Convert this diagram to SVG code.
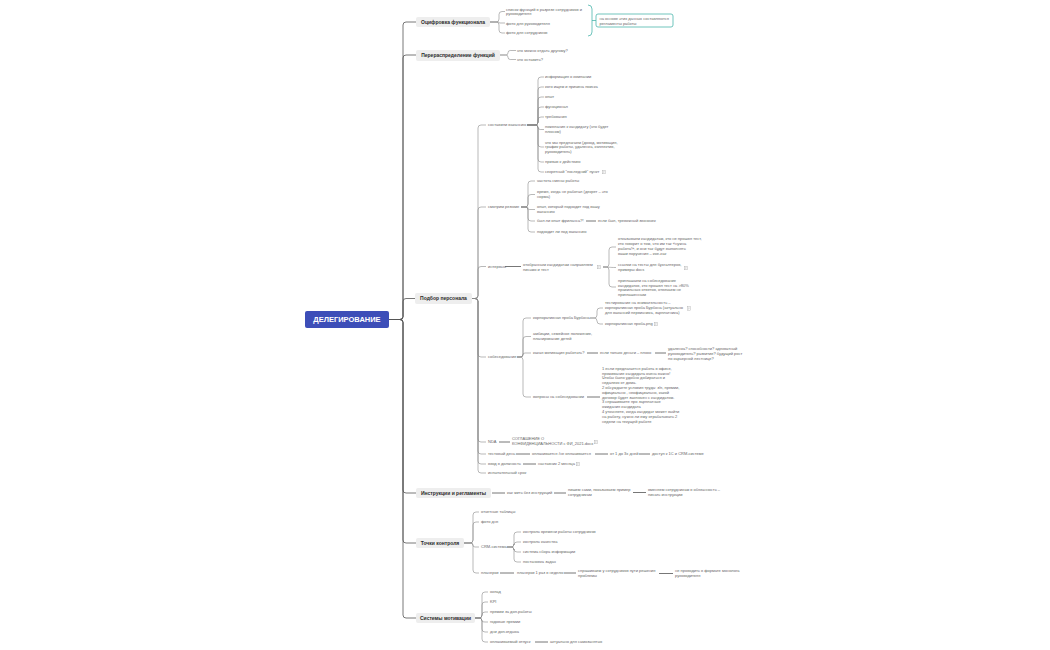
<svg xmlns="http://www.w3.org/2000/svg" xmlns:xlink="http://www.w3.org/1999/xlink" width="1050" height="650" viewBox="0 0 1050 650">
<style>
.t{font-family:"Liberation Sans",Arial,sans-serif;font-size:4px;fill:#666}
.m{font-family:"Liberation Sans",Arial,sans-serif;font-size:5px;font-weight:bold;fill:#2a2a2a;text-anchor:middle}
.r{font-family:"Liberation Sans",Arial,sans-serif;font-size:7.5px;font-weight:bold;fill:#fff;text-anchor:middle}
.mb{fill:#eeeeee}
.c{fill:none;stroke:#8a8a8a;stroke-width:0.6}
.mc{fill:none;stroke:#555;stroke-width:0.8}
.s{fill:none;stroke:#777;stroke-width:1}
.tl{fill:none;stroke:#4db6ac;stroke-width:0.8}
</style>
<defs>
<symbol id="note" viewBox="0 0 4 4" overflow="visible">
<rect x="0.3" y="0.2" width="3" height="3.6" fill="none" stroke="#aaa" stroke-width="0.4"/>
<path d="M0.9 1.2H2.7M0.9 2H2.7M0.9 2.8H2.2" stroke="#aaa" stroke-width="0.3"/>
</symbol>
</defs>
<rect width="1050" height="650" fill="#fff"/>

<g id="connectors">
<path class="mc" d="M389 319.5 H400 Q403 319.5 403 316.5 V25 Q403 22 406 22 H416"/>
<path class="mc" d="M389 319.5 H400 Q403 319.5 403 316.5 V58 Q403 55 406 55 H416"/>
<path class="mc" d="M389 319.5 H400 Q403 319.5 403 316.5 V301.5 Q403 298.5 406 298.5 H415"/>
<path class="mc" d="M389 319.5 H400 Q403 319.5 403 322.5 V490 Q403 493 406 493 H416"/>
<path class="mc" d="M389 319.5 H400 Q403 319.5 403 322.5 V540 Q403 543 406 543 H416"/>
<path class="mc" d="M389 319.5 H400 Q403 319.5 403 322.5 V615 Q403 618 406 618 H416"/>
<path class="c" d="M490 22 H496 Q499 22 499 19 V14.5 Q499 11.5 502 11.5 H505"/>
<path class="c" d="M490 22 H498.5 Q499 22 499 22.5 Q499 23 499.5 23 H505"/>
<path class="c" d="M490 22 H496 Q499 22 499 25 V30 Q499 33 502 33 H505"/>
<path class="tl" d="M588 5 Q592 5 592 9 V32 Q592 36 588 36 M592 20.5 H596"/>
<path class="c" d="M500 55 H505.75 Q508 55 508 52.75 Q508 50.5 510.25 50.5 H516"/>
<path class="c" d="M500 55 H505.75 Q508 55 508 57.25 Q508 59.5 510.25 59.5 H516"/>
<path class="c" d="M472 298.5 H475 Q478 298.5 478 295.5 V128 Q478 125 481 125 H486"/>
<path class="c" d="M472 298.5 H475 Q478 298.5 478 295.5 V210 Q478 207 481 207 H486"/>
<path class="c" d="M472 298.5 H475 Q478 298.5 478 295.5 V269.5 Q478 266.5 481 266.5 H486"/>
<path class="c" d="M472 298.5 H475 Q478 298.5 478 301.5 V354 Q478 357 481 357 H486"/>
<path class="c" d="M472 298.5 H475 Q478 298.5 478 301.5 V439 Q478 442 481 442 H486"/>
<path class="c" d="M472 298.5 H475 Q478 298.5 478 301.5 V451 Q478 454 481 454 H486"/>
<path class="c" d="M472 298.5 H475 Q478 298.5 478 301.5 V461 Q478 464 481 464 H486"/>
<path class="c" d="M472 298.5 H475 Q478 298.5 478 301.5 V470 Q478 473 481 473 H486"/>
<path class="c" d="M527 125 H535 Q538 125 538 122 V80 Q538 77 541 77 H544"/>
<path class="c" d="M527 125 H535 Q538 125 538 122 V90 Q538 87 541 87 H544"/>
<path class="c" d="M527 125 H535 Q538 125 538 122 V100 Q538 97 541 97 H544"/>
<path class="c" d="M527 125 H535 Q538 125 538 122 V110 Q538 107 541 107 H544"/>
<path class="c" d="M527 125 H535 Q538 125 538 122 V120 Q538 117 541 117 H544"/>
<path class="c" d="M527 125 H535.75 Q538 125 538 127.25 Q538 129.5 540.25 129.5 H544"/>
<path class="c" d="M527 125 H535 Q538 125 538 128 V144 Q538 147 541 147 H544"/>
<path class="c" d="M527 125 H535 Q538 125 538 128 V159 Q538 162 541 162 H544"/>
<path class="c" d="M527 125 H535 Q538 125 538 128 V169 Q538 172 541 172 H544"/>
<path class="c" d="M521 207 H525 Q528 207 528 204 V184 Q528 181 531 181 H535"/>
<path class="c" d="M521 207 H525 Q528 207 528 204 V197.5 Q528 194.5 531 194.5 H535"/>
<path class="c" d="M521 207 H526.75 Q528 207 528 208.25 Q528 209.5 529.25 209.5 H535"/>
<path class="c" d="M521 207 H525 Q528 207 528 210 V218 Q528 221 531 221 H535"/>
<path class="c" d="M521 207 H525 Q528 207 528 210 V229 Q528 232 531 232 H535"/>
<path class="s" d="M586 221 H596"/>
<path class="s" d="M505 266.5 H521"/>
<path class="c" d="M603 267 H606 Q609 267 609 264 V250 Q609 247 612 247 H616"/>
<path class="c" d="M603 267 C609 267 609 267.5 616 267.5"/>
<path class="c" d="M603 267 H606 Q609 267 609 270 V284 Q609 287 612 287 H616"/>
<path class="c" d="M517 357 H520 Q523 357 523 354 V321 Q523 318 526 318 H531"/>
<path class="c" d="M517 357 H520 Q523 357 523 354 V339.5 Q523 336.5 526 336.5 H531"/>
<path class="c" d="M517 357 H521 Q523 357 523 355 Q523 353 525 353 H531"/>
<path class="c" d="M517 357 H520 Q523 357 523 360 V394 Q523 397 526 397 H531"/>
<path class="c" d="M590 318 H594 Q597 318 597 315 V311 Q597 308 600 308 H603"/>
<path class="c" d="M590 318 H594 Q597 318 597 321 Q597 324 600 324 H603"/>
<path class="s" d="M587 353 H598"/>
<path class="s" d="M655 353 H666"/>
<path class="s" d="M587 397 H600"/>
<path class="s" d="M499 442 H510"/>
<path class="s" d="M516 454 H530"/>
<path class="s" d="M595 454 H608"/>
<path class="s" d="M639 454 H650"/>
<path class="s" d="M523 464 H536"/>
<path class="s" d="M492 493 H505"/>
<path class="s" d="M554 493 H566"/>
<path class="s" d="M633 492.5 H646"/>
<path class="c" d="M464 543 H470 Q473 543 473 540 V515 Q473 512 476 512 H479"/>
<path class="c" d="M464 543 H470 Q473 543 473 540 V525 Q473 522 476 522 H479"/>
<path class="c" d="M464 543 H471 Q473 543 473 545 Q473 547 475 547 H479"/>
<path class="c" d="M464 543 H470 Q473 543 473 546 V570 Q473 573 476 573 H479"/>
<path class="c" d="M507 547 H511 Q514 547 514 544 V535 Q514 532 517 532 H521"/>
<path class="c" d="M507 547 H511 Q514 547 514 544 V545 Q514 542 517 542 H521"/>
<path class="c" d="M507 547 H511 Q514 547 514 550 V549 Q514 552 517 552 H521"/>
<path class="c" d="M507 547 H511 Q514 547 514 550 V559 Q514 562 517 562 H521"/>
<path class="s" d="M500 573 H514"/>
<path class="s" d="M564 573 H576"/>
<path class="s" d="M659 573.5 H673"/>
<path class="c" d="M475 618 H479 Q482 618 482 615 V595 Q482 592 485 592 H488"/>
<path class="c" d="M475 618 H479 Q482 618 482 615 V605 Q482 602 485 602 H488"/>
<path class="c" d="M475 618 H479 Q482 618 482 615 Q482 612 485 612 H488"/>
<path class="c" d="M475 618 H479 Q482 618 482 621 Q482 622 485 622 H488"/>
<path class="c" d="M475 618 H479 Q482 618 482 621 V629 Q482 632 485 632 H488"/>
<path class="c" d="M475 618 H479 Q482 618 482 621 V639 Q482 642 485 642 H488"/>
<path class="s" d="M535 642 H548"/>
</g>

<g id="root">
<rect x="305" y="311" width="84" height="17" rx="2" fill="#3d4eb8"/>
<text class="r" x="347" y="322.3">ДЕЛЕГИРОВАНИЕ</text>
</g>

<g id="n-ocifrovka">
<rect class="mb" x="416" y="17" width="74" height="10" rx="2"/>
<text class="m" x="453" y="23.8">Оцифровка функционала</text>
</g>
<g id="n-ocifrovka-sub">
<text class="t"><tspan x="506" y="10.7">список функций в разрезе сотрудников и</tspan><tspan x="506" y="15.4">руководителя</tspan></text>
<text class="t" x="506" y="24.7">фото для руководителя</text>
<text class="t" x="506" y="34.4">фото для сотрудников</text>
</g>
<g id="n-summary">
<rect x="596" y="14" width="77" height="13" rx="2" fill="#fff" stroke="#4db6ac" stroke-width="0.8"/>
<text class="t"><tspan x="599.5" y="20.2">на основе этих данных составляются</tspan><tspan x="599.5" y="24.8">регламенты работы</tspan></text>
</g>

<g id="n-pereraspr">
<rect class="mb" x="416" y="50" width="84" height="11" rx="2"/>
<text class="m" x="458" y="56.8">Перераспределение функций</text>
<text class="t" x="517" y="51.9">что можно отдать другому?</text>
<text class="t" x="517" y="60.9">что оставить?</text>
</g>

<g id="n-podbor">
<rect class="mb" x="415" y="293" width="57" height="11" rx="2"/>
<text class="m" x="443.5" y="300.3">Подбор персонала</text>
</g>

<g id="n-vakansiya">
<text class="t" x="488" y="126.4">составили вакансию</text>
<text class="t" x="545" y="78.4">информация о компании</text>
<text class="t" x="545" y="88.4">кого ищем и причина поиска</text>
<text class="t" x="545" y="98.4">опыт</text>
<text class="t" x="545" y="108.4">функционал</text>
<text class="t" x="545" y="118.4">требования</text>
<text class="t"><tspan x="545" y="128.4">пожелания к кандидату (что будет</tspan><tspan x="545" y="133.3">плюсом)</tspan></text>
<text class="t"><tspan x="545" y="143.7">что мы предлагаем (доход, мотивация,</tspan><tspan x="545" y="148.4">график работы, удаленка, коллектив,</tspan><tspan x="545" y="153.1">руководитель)</tspan></text>
<text class="t" x="545" y="163.4">призыв к действию</text>
<text class="t" x="545" y="173.4">секретный "последний" пункт</text>
<use xlink:href="#note" x="602" y="170" width="4" height="4"/>
</g>

<g id="n-rezume">
<text class="t" x="488" y="208.4">смотрим резюме</text>
<text class="t" x="537" y="182.4">частота смены работы</text>
<text class="t"><tspan x="537" y="193.4">время, когда не работал (декрет – это</tspan><tspan x="537" y="198.3">норма)</tspan></text>
<text class="t"><tspan x="537" y="208.4">опыт, который подходит под вашу</tspan><tspan x="537" y="213.3">вакансию</tspan></text>
<text class="t" x="537" y="222.4">был ли опыт фриланса?!</text>
<text class="t" x="598" y="222.4">если был, тревожный звоночек</text>
<text class="t" x="537" y="233.4">подходит ли под вакансию</text>
</g>

<g id="n-intervyu">
<text class="t" x="488" y="267.9">интервью</text>
<text class="t"><tspan x="523" y="266.4">отобранным кандидатам направляем</tspan><tspan x="523" y="271.3">письмо и тест</tspan></text>
<use xlink:href="#note" x="597" y="265" width="4" height="4"/>
<text class="t"><tspan x="618" y="240.4">отказываем кандидатам, кто не прошел тест,</tspan><tspan x="618" y="245.2">кто говорит о том, что им так «нужна</tspan><tspan x="618" y="250">работа!», и они так будут выполнять</tspan><tspan x="618" y="254.8">ваши поручения – кое-как</tspan></text>
<text class="t"><tspan x="618" y="266.4">ссылки на тесты для бухгалтеров,</tspan><tspan x="618" y="271.2">примеры docs</tspan></text>
<use xlink:href="#note" x="684" y="266" width="4" height="4"/>
<text class="t"><tspan x="618" y="281.7">приглашаем на собеседование</tspan><tspan x="618" y="286.5">кандидатов, кто прошел тест на &gt;80%</tspan><tspan x="618" y="291.3">правильных ответов, отвечаем не</tspan><tspan x="618" y="296.1">приглашенным</tspan></text>
</g>

<g id="n-sobesedovanie">
<text class="t" x="488" y="358.4">собеседование</text>
<text class="t" x="533" y="319.4">корпоративная проба Бурбона</text>
<text class="t"><tspan x="605" y="304">тестирование на внимательность –</tspan><tspan x="605" y="309.2">корпоративная проба Бурбона (актуально</tspan><tspan x="605" y="314.4">для вакансий первичника, зарплатника)</tspan></text>
<use xlink:href="#note" x="687" y="306.5" width="4" height="4"/>
<text class="t" x="605" y="325.4">корпоративная проба.png</text>
<use xlink:href="#note" x="654" y="322" width="4" height="4"/>
<text class="t"><tspan x="533" y="335.4">амбиции, семейное положение,</tspan><tspan x="533" y="340.3">планирование детей</tspan></text>
<text class="t" x="533" y="354.4">какая мотивация работать?</text>
<text class="t" x="600" y="354.4">если только деньги – плохо</text>
<text class="t"><tspan x="668" y="350.4">удаленка? способности? адекватный</tspan><tspan x="668" y="355.3">руководитель? развитие? будущий рост</tspan><tspan x="668" y="360.2">по карьерной лестнице?</tspan></text>
<text class="t" x="533" y="398.4">вопросы на собеседовании</text>
<text class="t"><tspan x="602" y="369.7"> 1 если предлагается работа в офисе,</tspan><tspan x="602" y="374.5">проживание кандидата очень важно!</tspan><tspan x="602" y="379.3">Чтобы было удобно добираться и</tspan><tspan x="602" y="384.1">недалеко от дома.</tspan><tspan x="602" y="388.9">2 обсуждаете условия труда: з/п, премии,</tspan><tspan x="602" y="393.7">официально , неофициально, какой</tspan><tspan x="602" y="398.5">договор будет заключен с кандидатом.</tspan><tspan x="602" y="403.3">3 спрашиваете про зарплатные</tspan><tspan x="602" y="408.1">ожидания кандидата</tspan><tspan x="602" y="412.9">4 уточняете, когда кандидат может выйти</tspan><tspan x="602" y="417.7">на работу, нужно ли ему отрабатывать 2</tspan><tspan x="602" y="422.5">недели на текущей работе</tspan></text>
</g>

<g id="n-nda">
<text class="t" x="488" y="443.4">NDA</text>
<text class="t"><tspan x="512" y="440.4">СОГЛАШЕНИЕ О</tspan><tspan x="512" y="445">КОНФИДЕНЦИАЛЬНОСТИ с ФИ_2021.docx</tspan></text>
<use xlink:href="#note" x="594" y="440" width="4" height="4"/>
</g>
<g id="n-testday">
<text class="t" x="488" y="455.4">тестовый день</text>
<text class="t" x="532" y="455.4">оплачивается /не оплачивается</text>
<text class="t" x="610" y="455.4">от 1 до 3х дней</text>
<text class="t" x="652" y="455.4">доступ к 1С и CRM-системе</text>
</g>
<g id="n-vvod">
<text class="t" x="488" y="465.4">ввод в должность</text>
<text class="t" x="538" y="465.4">наставник 2 месяца</text>
<use xlink:href="#note" x="576" y="462" width="4" height="4"/>
</g>
<g id="n-isp">
<text class="t" x="488" y="474.4">испытательный срок</text>
</g>

<g id="n-instrukcii">
<rect class="mb" x="416" y="488" width="75" height="10" rx="2"/>
<text class="m" x="453.5" y="494.8">Инструкции и регламенты</text>
<text class="t" x="507" y="494.4">как жить без инструкций</text>
<text class="t"><tspan x="568" y="491.4">пишем сами, показываем пример</tspan><tspan x="568" y="496.3">сотрудникам</tspan></text>
<text class="t"><tspan x="648" y="491.4">вменяем сотрудникам в обязанность –</tspan><tspan x="648" y="496.3">писать инструкции</tspan></text>
</g>

<g id="n-tochki">
<rect class="mb" x="416" y="538" width="48" height="10" rx="2"/>
<text class="m" x="440" y="544.8">Точки контроля</text>
<text class="t" x="481" y="513.4">отчетные таблицы</text>
<text class="t" x="481" y="523.4">фото дня</text>
<text class="t" x="481" y="548.4">CRM-система</text>
<text class="t" x="523" y="533.4">контроль времени работы сотрудников</text>
<text class="t" x="523" y="543.4">контроль качества</text>
<text class="t" x="523" y="553.4">система сбора информации</text>
<text class="t" x="523" y="563.4">постановка задач</text>
<text class="t" x="481" y="574.4">планерки</text>
<text class="t" x="517" y="574.4">планерки 1 раз в неделю</text>
<text class="t"><tspan x="578" y="572.4">спрашиваем у сотрудников пути решения</tspan><tspan x="578" y="577.3">проблемы</tspan></text>
<text class="t"><tspan x="675" y="572.4">не проводить в формате монолога</tspan><tspan x="675" y="577.3">руководителя</tspan></text>
</g>

<g id="n-motivaciya">
<rect class="mb" x="416" y="613" width="59" height="10" rx="2"/>
<text class="m" x="445.5" y="619.8">Системы мотивации</text>
<text class="t" x="490" y="593.4">оклад</text>
<text class="t" x="490" y="603.4">KPI</text>
<text class="t" x="490" y="613.4">премии за доп.работы</text>
<text class="t" x="490" y="623.4">годовые премии</text>
<text class="t" x="490" y="633.4">дни доп.отдыха</text>
<text class="t" x="490" y="643.4">оплачиваемый отпуск</text>
<text class="t" x="550" y="643.4">актуально для самозанятых</text>
</g>
</svg>
